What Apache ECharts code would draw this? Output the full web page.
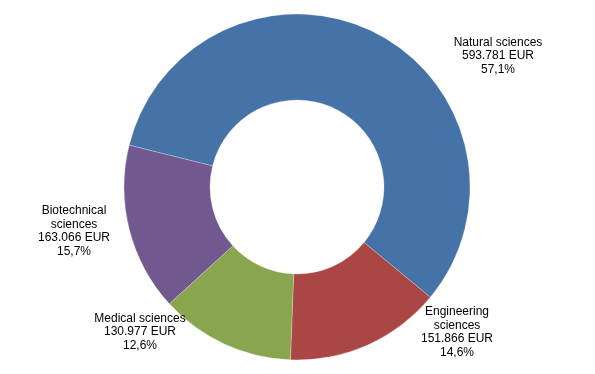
<!DOCTYPE html>
<html>
<head>
<meta charset="utf-8">
<script src="https://cdn.jsdelivr.net/npm/echarts@6/dist/echarts.min.js"></script>
<style>
html,body{margin:0;padding:0;background:#fff;}
#chart{width:595px;height:374px;}
</style>
</head>
<body>
<div id="chart"></div>
<script>
const categories = ['Natural sciences', 'Engineering\nsciences', 'Medical sciences', 'Biotechnical\nsciences'];
const amountsEUR = [593781, 151866, 130977, 163066];
const sliceColors = ['#4572A7', '#AA4643', '#89A54E', '#71588F'];

const total = amountsEUR.reduce((a, b) => a + b, 0);
function fmtEUR(v) {
  return String(v).replace(/\B(?=(\d{3})+(?!\d))/g, '.') + ' EUR';
}
function fmtPct(v) {
  return (v / total * 100).toFixed(1).replace('.', ',') + '%';
}
// label block centres (layout only)
const labelCenters = [[498, 56], [457, 332], [140, 332], [74, 231]];

const chart = echarts.init(document.getElementById('chart'), null, {renderer: 'canvas'});
chart.setOption({
  animation: false,
  backgroundColor: '#fff',
  series: [{
    type: 'pie',
    center: [297, 187],
    radius: [87, 173],
    startAngle: 166,
    clockwise: true,
    avoidLabelOverlap: false,
    itemStyle: {borderColor: 'rgba(255,255,255,0.5)', borderWidth: 0.5},
    label: {
      show: true,
      position: 'outside',
      color: '#000',
      fontFamily: 'Liberation Sans, Arial, sans-serif',
      fontSize: 12,
      lineHeight: 13.5,
      align: 'center',
      formatter: p => p.name + '\n' + fmtEUR(p.value) + '\n' + fmtPct(p.value)
    },
    labelLine: {show: false},
    labelLayout: function (params) {
      const c = labelCenters[params.dataIndex];
      return {x: c[0], y: c[1], align: 'center', verticalAlign: 'middle'};
    },
    emphasis: {disabled: true},
    data: categories.map((n, i) => ({name: n, value: amountsEUR[i], itemStyle: {color: sliceColors[i]}}))
  }]
});
</script>
</body>
</html>
